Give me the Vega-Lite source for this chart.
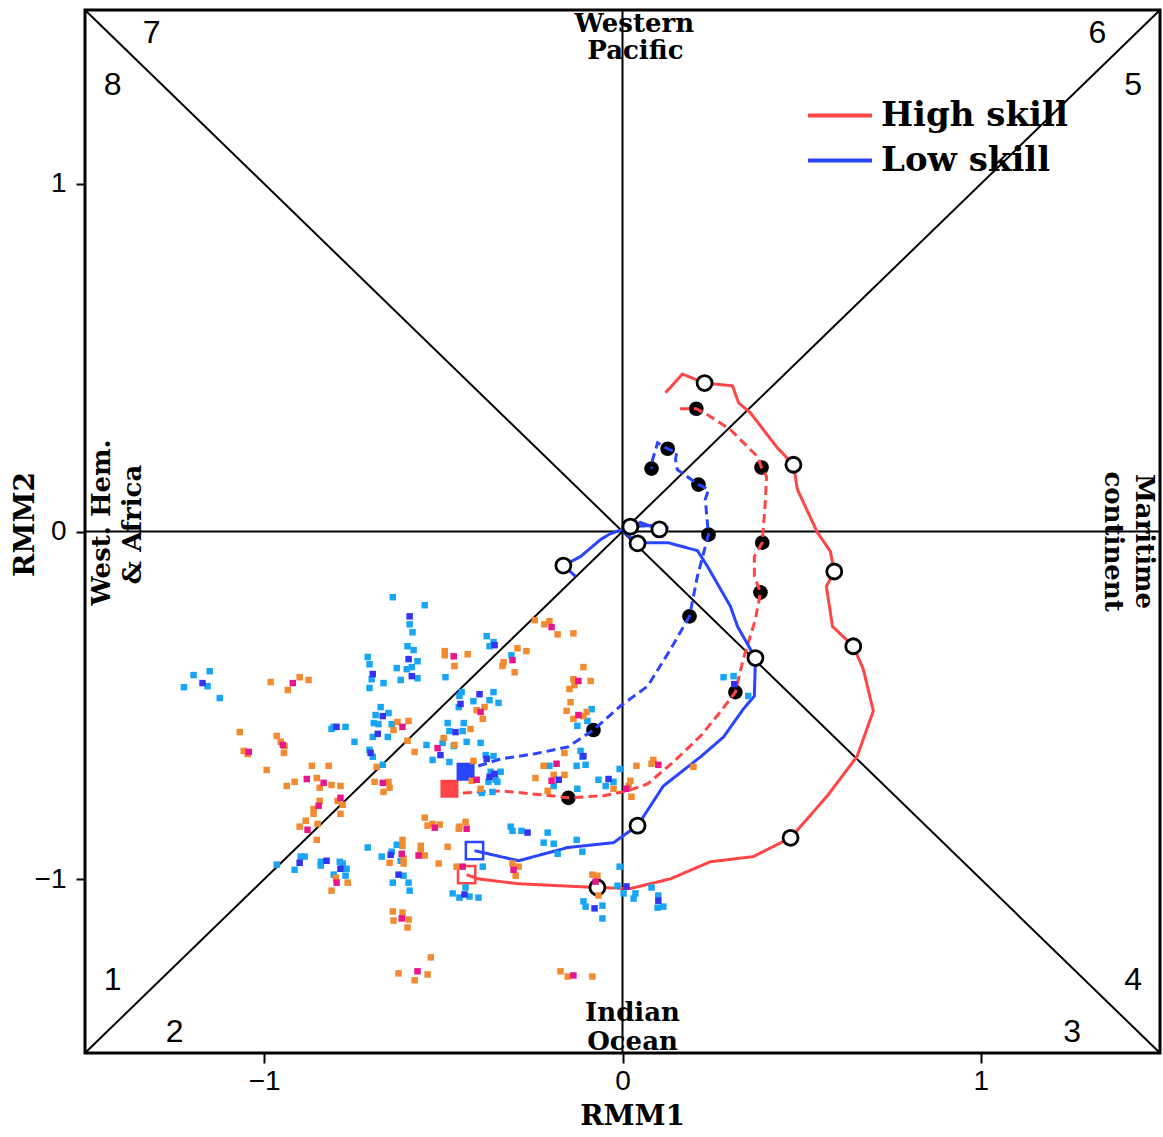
{
"$schema":"https://vega.github.io/schema/vega-lite/v6.json",
"width":1075,"height":1043,
"autosize":{"type":"none"},
"padding":{"left":85,"top":10,"right":3,"bottom":84},
"background":"white",
"config":{
"view":{"stroke":"black","strokeWidth":3},
"axis":{"grid":false,"domain":false,"tickColor":"black","tickWidth":2,"labelColor":"black","labelFont":"Liberation Sans","labelFontSize":28,"titleColor":"black","titleFont":"DejaVu Serif","titleFontWeight":"bold","titleFontSize":28}
},
"datasets":{
"guides":[{"x":-1.5,"y":-1.5,"x2":1.5,"y2":1.5},{"x":-1.5,"y":1.5,"x2":1.5,"y2":-1.5},{"x":0,"y":-1.5,"x2":0,"y2":1.5},{"x":-1.5,"y":0,"x2":1.5,"y2":0}],
"tracks":[
{"skill":"High skill","kind":"observed","i":0,"x":-0.435,"y":-0.987,"c":0},
{"skill":"High skill","kind":"observed","i":1,"x":-0.404,"y":-0.999,"c":0},
{"skill":"High skill","kind":"observed","i":2,"x":-0.293,"y":-1.013,"c":0},
{"skill":"High skill","kind":"observed","i":3,"x":-0.173,"y":-1.019,"c":0},
{"skill":"High skill","kind":"observed","i":4,"x":-0.070,"y":-1.024,"c":1},
{"skill":"High skill","kind":"observed","i":5,"x":0.022,"y":-1.027,"c":0},
{"skill":"High skill","kind":"observed","i":6,"x":0.134,"y":-0.999,"c":0},
{"skill":"High skill","kind":"observed","i":7,"x":0.245,"y":-0.950,"c":0},
{"skill":"High skill","kind":"observed","i":8,"x":0.365,"y":-0.935,"c":0},
{"skill":"High skill","kind":"observed","i":9,"x":0.469,"y":-0.881,"c":1},
{"skill":"High skill","kind":"observed","i":10,"x":0.572,"y":-0.760,"c":0},
{"skill":"High skill","kind":"observed","i":11,"x":0.655,"y":-0.646,"c":0},
{"skill":"High skill","kind":"observed","i":12,"x":0.700,"y":-0.516,"c":0},
{"skill":"High skill","kind":"observed","i":13,"x":0.672,"y":-0.396,"c":0},
{"skill":"High skill","kind":"observed","i":14,"x":0.644,"y":-0.330,"c":1},
{"skill":"High skill","kind":"observed","i":15,"x":0.586,"y":-0.273,"c":0},
{"skill":"High skill","kind":"observed","i":16,"x":0.569,"y":-0.158,"c":0},
{"skill":"High skill","kind":"observed","i":17,"x":0.591,"y":-0.115,"c":1},
{"skill":"High skill","kind":"observed","i":18,"x":0.580,"y":-0.057,"c":0},
{"skill":"High skill","kind":"observed","i":19,"x":0.544,"y":-0.003,"c":0},
{"skill":"High skill","kind":"observed","i":20,"x":0.488,"y":0.121,"c":0},
{"skill":"High skill","kind":"observed","i":21,"x":0.477,"y":0.192,"c":1},
{"skill":"High skill","kind":"observed","i":22,"x":0.432,"y":0.241,"c":0},
{"skill":"High skill","kind":"observed","i":23,"x":0.357,"y":0.341,"c":0},
{"skill":"High skill","kind":"observed","i":24,"x":0.324,"y":0.370,"c":0},
{"skill":"High skill","kind":"observed","i":25,"x":0.307,"y":0.419,"c":0},
{"skill":"High skill","kind":"observed","i":26,"x":0.229,"y":0.427,"c":1},
{"skill":"High skill","kind":"observed","i":27,"x":0.167,"y":0.453,"c":0},
{"skill":"High skill","kind":"observed","i":28,"x":0.120,"y":0.399,"c":0},
{"skill":"High skill","kind":"forecast","i":0,"x":-0.483,"y":-0.740,"c":0},
{"skill":"High skill","kind":"forecast","i":1,"x":-0.443,"y":-0.752,"c":0},
{"skill":"High skill","kind":"forecast","i":2,"x":-0.340,"y":-0.746,"c":0},
{"skill":"High skill","kind":"forecast","i":3,"x":-0.220,"y":-0.758,"c":0},
{"skill":"High skill","kind":"forecast","i":4,"x":-0.151,"y":-0.766,"c":1},
{"skill":"High skill","kind":"forecast","i":5,"x":-0.053,"y":-0.760,"c":0},
{"skill":"High skill","kind":"forecast","i":6,"x":0.014,"y":-0.746,"c":0},
{"skill":"High skill","kind":"forecast","i":7,"x":0.070,"y":-0.726,"c":0},
{"skill":"High skill","kind":"forecast","i":8,"x":0.142,"y":-0.663,"c":0},
{"skill":"High skill","kind":"forecast","i":9,"x":0.218,"y":-0.588,"c":0},
{"skill":"High skill","kind":"forecast","i":10,"x":0.273,"y":-0.519,"c":0},
{"skill":"High skill","kind":"forecast","i":11,"x":0.315,"y":-0.462,"c":1},
{"skill":"High skill","kind":"forecast","i":12,"x":0.337,"y":-0.367,"c":0},
{"skill":"High skill","kind":"forecast","i":13,"x":0.371,"y":-0.253,"c":0},
{"skill":"High skill","kind":"forecast","i":14,"x":0.385,"y":-0.175,"c":1},
{"skill":"High skill","kind":"forecast","i":15,"x":0.368,"y":-0.129,"c":0},
{"skill":"High skill","kind":"forecast","i":16,"x":0.368,"y":-0.072,"c":0},
{"skill":"High skill","kind":"forecast","i":17,"x":0.390,"y":-0.032,"c":1},
{"skill":"High skill","kind":"forecast","i":18,"x":0.399,"y":0.092,"c":0},
{"skill":"High skill","kind":"forecast","i":19,"x":0.402,"y":0.158,"c":0},
{"skill":"High skill","kind":"forecast","i":20,"x":0.388,"y":0.184,"c":1},
{"skill":"High skill","kind":"forecast","i":21,"x":0.377,"y":0.215,"c":0},
{"skill":"High skill","kind":"forecast","i":22,"x":0.301,"y":0.293,"c":0},
{"skill":"High skill","kind":"forecast","i":23,"x":0.237,"y":0.336,"c":0},
{"skill":"High skill","kind":"forecast","i":24,"x":0.206,"y":0.353,"c":1},
{"skill":"High skill","kind":"forecast","i":25,"x":0.151,"y":0.353,"c":0},
{"skill":"Low skill","kind":"observed","i":0,"x":-0.413,"y":-0.918,"c":0},
{"skill":"Low skill","kind":"observed","i":1,"x":-0.290,"y":-0.947,"c":0},
{"skill":"Low skill","kind":"observed","i":2,"x":-0.153,"y":-0.909,"c":0},
{"skill":"Low skill","kind":"observed","i":3,"x":-0.025,"y":-0.895,"c":0},
{"skill":"Low skill","kind":"observed","i":4,"x":0.042,"y":-0.846,"c":1},
{"skill":"Low skill","kind":"observed","i":5,"x":0.114,"y":-0.732,"c":0},
{"skill":"Low skill","kind":"observed","i":6,"x":0.218,"y":-0.648,"c":0},
{"skill":"Low skill","kind":"observed","i":7,"x":0.282,"y":-0.591,"c":0},
{"skill":"Low skill","kind":"observed","i":8,"x":0.337,"y":-0.511,"c":0},
{"skill":"Low skill","kind":"observed","i":9,"x":0.368,"y":-0.473,"c":0},
{"skill":"Low skill","kind":"observed","i":10,"x":0.371,"y":-0.364,"c":1},
{"skill":"Low skill","kind":"observed","i":11,"x":0.321,"y":-0.273,"c":0},
{"skill":"Low skill","kind":"observed","i":12,"x":0.301,"y":-0.215,"c":0},
{"skill":"Low skill","kind":"observed","i":13,"x":0.237,"y":-0.100,"c":0},
{"skill":"Low skill","kind":"observed","i":14,"x":0.209,"y":-0.055,"c":0},
{"skill":"Low skill","kind":"observed","i":15,"x":0.126,"y":-0.032,"c":0},
{"skill":"Low skill","kind":"observed","i":16,"x":0.070,"y":-0.032,"c":0},
{"skill":"Low skill","kind":"observed","i":17,"x":0.042,"y":-0.034,"c":1},
{"skill":"Low skill","kind":"observed","i":18,"x":0.006,"y":-0.003,"c":0},
{"skill":"Low skill","kind":"observed","i":19,"x":0.050,"y":0.026,"c":0},
{"skill":"Low skill","kind":"observed","i":20,"x":0.103,"y":0.006,"c":1},
{"skill":"Low skill","kind":"observed","i":21,"x":0.128,"y":0.011,"c":0},
{"skill":"Low skill","kind":"observed","i":22,"x":0.078,"y":0.017,"c":0},
{"skill":"Low skill","kind":"observed","i":23,"x":0.022,"y":0.014,"c":1},
{"skill":"Low skill","kind":"observed","i":24,"x":-0.033,"y":-0.006,"c":0},
{"skill":"Low skill","kind":"observed","i":25,"x":-0.061,"y":-0.023,"c":0},
{"skill":"Low skill","kind":"observed","i":26,"x":-0.117,"y":-0.072,"c":0},
{"skill":"Low skill","kind":"observed","i":27,"x":-0.165,"y":-0.098,"c":1},
{"skill":"Low skill","kind":"observed","i":28,"x":-0.131,"y":-0.129,"c":0},
{"skill":"Low skill","kind":"forecast","i":0,"x":-0.438,"y":-0.691,"c":0},
{"skill":"Low skill","kind":"forecast","i":1,"x":-0.410,"y":-0.677,"c":0},
{"skill":"Low skill","kind":"forecast","i":2,"x":-0.340,"y":-0.654,"c":0},
{"skill":"Low skill","kind":"forecast","i":3,"x":-0.248,"y":-0.640,"c":0},
{"skill":"Low skill","kind":"forecast","i":4,"x":-0.153,"y":-0.620,"c":0},
{"skill":"Low skill","kind":"forecast","i":5,"x":-0.081,"y":-0.571,"c":1},
{"skill":"Low skill","kind":"forecast","i":6,"x":-0.006,"y":-0.502,"c":0},
{"skill":"Low skill","kind":"forecast","i":7,"x":0.070,"y":-0.445,"c":0},
{"skill":"Low skill","kind":"forecast","i":8,"x":0.134,"y":-0.339,"c":0},
{"skill":"Low skill","kind":"forecast","i":9,"x":0.187,"y":-0.244,"c":1},
{"skill":"Low skill","kind":"forecast","i":10,"x":0.209,"y":-0.129,"c":0},
{"skill":"Low skill","kind":"forecast","i":11,"x":0.240,"y":-0.009,"c":1},
{"skill":"Low skill","kind":"forecast","i":12,"x":0.231,"y":0.092,"c":0},
{"skill":"Low skill","kind":"forecast","i":13,"x":0.240,"y":0.121,"c":0},
{"skill":"Low skill","kind":"forecast","i":14,"x":0.212,"y":0.135,"c":1},
{"skill":"Low skill","kind":"forecast","i":15,"x":0.153,"y":0.178,"c":0},
{"skill":"Low skill","kind":"forecast","i":16,"x":0.148,"y":0.207,"c":0},
{"skill":"Low skill","kind":"forecast","i":17,"x":0.151,"y":0.227,"c":0},
{"skill":"Low skill","kind":"forecast","i":18,"x":0.126,"y":0.238,"c":1},
{"skill":"Low skill","kind":"forecast","i":19,"x":0.098,"y":0.255,"c":0},
{"skill":"Low skill","kind":"forecast","i":20,"x":0.084,"y":0.207,"c":0},
{"skill":"Low skill","kind":"forecast","i":21,"x":0.081,"y":0.181,"c":1}
],
"members":[
{"g":"C","x":-0.641,"y":-0.189},{"g":"C","x":-0.552,"y":-0.212},{"g":"C","x":-0.594,"y":-0.267},{"g":"C","x":-0.586,"y":-0.290},{"g":"C","x":-0.600,"y":-0.330},{"g":"C","x":-0.583,"y":-0.341},{"g":"C","x":-0.711,"y":-0.361},{"g":"C","x":-0.706,"y":-0.382},{"g":"C","x":-0.572,"y":-0.373},{"g":"C","x":-0.630,"y":-0.393},{"g":"C","x":-0.602,"y":-0.396},{"g":"C","x":-0.588,"y":-0.390},{"g":"C","x":-0.572,"y":-0.422},{"g":"C","x":-0.700,"y":-0.425},{"g":"C","x":-0.667,"y":-0.436},{"g":"C","x":-0.619,"y":-0.427},{"g":"C","x":-0.706,"y":-0.450},{"g":"C","x":-0.494,"y":-0.419},{"g":"C","x":-1.197,"y":-0.413},{"g":"C","x":-1.152,"y":-0.402},{"g":"C","x":-1.158,"y":-0.445},{"g":"C","x":-1.224,"y":-0.448},{"g":"C","x":-1.124,"y":-0.479},{"g":"C","x":-0.675,"y":-0.505},{"g":"C","x":-0.689,"y":-0.528},{"g":"C","x":-0.653,"y":-0.522},{"g":"C","x":-0.694,"y":-0.551},{"g":"C","x":-0.681,"y":-0.554},{"g":"C","x":-0.644,"y":-0.554},{"g":"C","x":-0.806,"y":-0.562},{"g":"C","x":-0.773,"y":-0.562},{"g":"C","x":-0.812,"y":-0.568},{"g":"C","x":-0.697,"y":-0.591},{"g":"C","x":-0.655,"y":-0.591},{"g":"C","x":-0.748,"y":-0.605},{"g":"C","x":-0.706,"y":-0.628},{"g":"C","x":-0.697,"y":-0.648},{"g":"C","x":-0.669,"y":-0.671},{"g":"C","x":-0.488,"y":-0.551},{"g":"C","x":-0.443,"y":-0.551},{"g":"C","x":-0.483,"y":-0.574},{"g":"C","x":-0.446,"y":-0.574},{"g":"C","x":-0.435,"y":-0.605},{"g":"C","x":-0.547,"y":-0.614},{"g":"C","x":-0.502,"y":-0.608},{"g":"C","x":-0.530,"y":-0.657},{"g":"C","x":-0.483,"y":-0.663},{"g":"C","x":-0.711,"y":-0.909},{"g":"C","x":-0.672,"y":-0.935},{"g":"C","x":-0.644,"y":-0.921},{"g":"C","x":-0.630,"y":-0.901},{"g":"C","x":-0.619,"y":-0.947},{"g":"C","x":-0.965,"y":-0.958},{"g":"C","x":-0.898,"y":-0.935},{"g":"C","x":-0.887,"y":-0.935},{"g":"C","x":-0.915,"y":-0.973},{"g":"C","x":-0.842,"y":-0.950},{"g":"C","x":-0.842,"y":-0.961},{"g":"C","x":-0.789,"y":-0.950},{"g":"C","x":-0.781,"y":-0.955},{"g":"C","x":-0.770,"y":-0.970},{"g":"C","x":-0.806,"y":-0.987},{"g":"C","x":-0.773,"y":-0.990},{"g":"C","x":-0.641,"y":-1.010},{"g":"C","x":-0.597,"y":-1.010},{"g":"C","x":-0.611,"y":-0.990},{"g":"C","x":-0.594,"y":-1.033},{"g":"C","x":-0.379,"y":-0.301},{"g":"C","x":-0.371,"y":-0.330},{"g":"C","x":-0.360,"y":-0.318},{"g":"C","x":-0.310,"y":-0.356},{"g":"C","x":-0.449,"y":-0.462},{"g":"C","x":-0.360,"y":-0.462},{"g":"C","x":-0.416,"y":-0.488},{"g":"C","x":-0.371,"y":-0.485},{"g":"C","x":-0.346,"y":-0.493},{"g":"C","x":-0.457,"y":-0.505},{"g":"C","x":-0.455,"y":-0.473},{"g":"C","x":-0.086,"y":-0.511},{"g":"C","x":-0.126,"y":-0.559},{"g":"C","x":-0.098,"y":-0.545},{"g":"C","x":-0.471,"y":-0.617},{"g":"C","x":-0.396,"y":-0.608},{"g":"C","x":-0.382,"y":-0.643},{"g":"C","x":-0.360,"y":-0.646},{"g":"C","x":-0.368,"y":-0.691},{"g":"C","x":-0.340,"y":-0.691},{"g":"C","x":-0.354,"y":-0.714},{"g":"C","x":-0.374,"y":-0.720},{"g":"C","x":-0.349,"y":-0.720},{"g":"C","x":-0.393,"y":-0.752},{"g":"C","x":-0.363,"y":-0.749},{"g":"C","x":-0.204,"y":-0.674},{"g":"C","x":-0.192,"y":-0.732},{"g":"C","x":-0.126,"y":-0.740},{"g":"C","x":-0.128,"y":-0.674},{"g":"C","x":-0.103,"y":-0.671},{"g":"C","x":-0.117,"y":-0.631},{"g":"C","x":-0.112,"y":-0.648},{"g":"C","x":-0.067,"y":-0.714},{"g":"C","x":-0.047,"y":-0.732},{"g":"C","x":-0.025,"y":-0.720},{"g":"C","x":-0.008,"y":-0.683},{"g":"C","x":-0.312,"y":-0.849},{"g":"C","x":-0.307,"y":-0.861},{"g":"C","x":-0.282,"y":-0.861},{"g":"C","x":-0.209,"y":-0.866},{"g":"C","x":-0.220,"y":-0.895},{"g":"C","x":-0.192,"y":-0.898},{"g":"C","x":-0.128,"y":-0.887},{"g":"C","x":-0.112,"y":-0.921},{"g":"C","x":-0.181,"y":-0.927},{"g":"C","x":-0.390,"y":-0.964},{"g":"C","x":-0.438,"y":-1.024},{"g":"C","x":-0.474,"y":-1.041},{"g":"C","x":-0.455,"y":-1.053},{"g":"C","x":-0.427,"y":-1.050},{"g":"C","x":-0.402,"y":-1.053},{"g":"C","x":-0.014,"y":-1.019},{"g":"C","x":0.003,"y":-1.041},{"g":"C","x":0.036,"y":-1.041},{"g":"C","x":0.031,"y":-1.056},{"g":"C","x":0.081,"y":-1.024},{"g":"C","x":0.100,"y":-1.047},{"g":"C","x":0.098,"y":-1.082},{"g":"C","x":0.114,"y":-1.079},{"g":"C","x":-0.008,"y":-0.964},{"g":"C","x":-0.109,"y":-1.064},{"g":"C","x":-0.103,"y":-1.079},{"g":"C","x":-0.056,"y":-1.076},{"g":"C","x":-0.056,"y":-1.113},{"g":"C","x":0.282,"y":-0.419},{"g":"C","x":0.310,"y":-0.416},{"g":"C","x":0.351,"y":-0.473},
{"g":"O","x":-0.496,"y":-0.344},{"g":"O","x":-0.496,"y":-0.356},{"g":"O","x":-0.432,"y":-0.353},{"g":"O","x":-0.469,"y":-0.387},{"g":"O","x":-0.982,"y":-0.433},{"g":"O","x":-0.901,"y":-0.419},{"g":"O","x":-0.876,"y":-0.427},{"g":"O","x":-0.934,"y":-0.456},{"g":"O","x":-0.628,"y":-0.548},{"g":"O","x":-0.597,"y":-0.545},{"g":"O","x":-0.639,"y":-0.571},{"g":"O","x":-0.600,"y":-0.602},{"g":"O","x":-0.580,"y":-0.634},{"g":"O","x":-0.686,"y":-0.677},{"g":"O","x":-1.068,"y":-0.577},{"g":"O","x":-1.057,"y":-0.631},{"g":"O","x":-1.046,"y":-0.640},{"g":"O","x":-0.965,"y":-0.588},{"g":"O","x":-0.954,"y":-0.605},{"g":"O","x":-0.943,"y":-0.617},{"g":"O","x":-0.945,"y":-0.637},{"g":"O","x":-0.993,"y":-0.686},{"g":"O","x":-0.867,"y":-0.674},{"g":"O","x":-0.820,"y":-0.674},{"g":"O","x":-0.853,"y":-0.709},{"g":"O","x":-0.812,"y":-0.729},{"g":"O","x":-0.787,"y":-0.732},{"g":"O","x":-0.915,"y":-0.720},{"g":"O","x":-0.937,"y":-0.732},{"g":"O","x":-0.845,"y":-0.737},{"g":"O","x":-0.692,"y":-0.720},{"g":"O","x":-0.653,"y":-0.720},{"g":"O","x":-0.650,"y":-0.737},{"g":"O","x":-0.667,"y":-0.749},{"g":"O","x":-0.795,"y":-0.775},{"g":"O","x":-0.781,"y":-0.786},{"g":"O","x":-0.845,"y":-0.775},{"g":"O","x":-0.862,"y":-0.798},{"g":"O","x":-0.862,"y":-0.812},{"g":"O","x":-0.787,"y":-0.812},{"g":"O","x":-0.884,"y":-0.832},{"g":"O","x":-0.851,"y":-0.841},{"g":"O","x":-0.901,"y":-0.849},{"g":"O","x":-0.853,"y":-0.887},{"g":"O","x":-0.469,"y":-0.614},{"g":"O","x":-0.499,"y":-0.594},{"g":"O","x":-0.552,"y":-0.823},{"g":"O","x":-0.530,"y":-0.841},{"g":"O","x":-0.544,"y":-0.846},{"g":"O","x":-0.510,"y":-0.843},{"g":"O","x":-0.455,"y":-0.849},{"g":"O","x":-0.438,"y":-0.835},{"g":"O","x":-0.614,"y":-0.887},{"g":"O","x":-0.614,"y":-0.904},{"g":"O","x":-0.611,"y":-0.955},{"g":"O","x":-0.611,"y":-0.941},{"g":"O","x":-0.650,"y":-0.953},{"g":"O","x":-0.563,"y":-0.904},{"g":"O","x":-0.563,"y":-0.921},{"g":"O","x":-0.552,"y":-0.932},{"g":"O","x":-0.513,"y":-0.955},{"g":"O","x":-0.488,"y":-0.907},{"g":"O","x":-0.800,"y":-0.996},{"g":"O","x":-0.767,"y":-1.010},{"g":"O","x":-0.812,"y":-1.033},{"g":"O","x":-0.332,"y":-0.376},{"g":"O","x":-0.335,"y":-0.387},{"g":"O","x":-0.301,"y":-0.405},{"g":"O","x":-0.109,"y":-0.390},{"g":"O","x":-0.137,"y":-0.425},{"g":"O","x":-0.089,"y":-0.430},{"g":"O","x":-0.134,"y":-0.442},{"g":"O","x":-0.148,"y":-0.453},{"g":"O","x":-0.145,"y":-0.491},{"g":"O","x":-0.156,"y":-0.516},{"g":"O","x":-0.109,"y":-0.531},{"g":"O","x":-0.100,"y":-0.519},{"g":"O","x":-0.137,"y":-0.539},{"g":"O","x":-0.407,"y":-0.514},{"g":"O","x":-0.385,"y":-0.505},{"g":"O","x":-0.390,"y":-0.539},{"g":"O","x":-0.424,"y":-0.568},{"g":"O","x":-0.416,"y":-0.660},{"g":"O","x":-0.421,"y":-0.717},{"g":"O","x":-0.396,"y":-0.740},{"g":"O","x":-0.220,"y":-0.674},{"g":"O","x":-0.162,"y":-0.700},{"g":"O","x":-0.192,"y":-0.700},{"g":"O","x":-0.243,"y":-0.709},{"g":"O","x":-0.209,"y":-0.746},{"g":"O","x":-0.162,"y":-0.637},{"g":"O","x":-0.025,"y":-0.740},{"g":"O","x":0.039,"y":-0.674},{"g":"O","x":0.086,"y":-0.657},{"g":"O","x":0.081,"y":-0.668},{"g":"O","x":0.022,"y":-0.717},{"g":"O","x":0.017,"y":-0.732},{"g":"O","x":0.025,"y":-0.763},{"g":"O","x":0.198,"y":-0.677},{"g":"O","x":-0.457,"y":-0.855},{"g":"O","x":-0.307,"y":-0.955},{"g":"O","x":-0.298,"y":-0.990},{"g":"O","x":-0.290,"y":-0.964},{"g":"O","x":-0.463,"y":-0.964},{"g":"O","x":-0.084,"y":-0.987},{"g":"O","x":-0.070,"y":-0.990},{"g":"O","x":-0.067,"y":-1.047},{"g":"O","x":-0.641,"y":-1.093},{"g":"O","x":-0.614,"y":-1.096},{"g":"O","x":-0.639,"y":-1.119},{"g":"O","x":-0.597,"y":-1.116},{"g":"O","x":-0.600,"y":-1.139},{"g":"O","x":-0.535,"y":-1.225},{"g":"O","x":-0.625,"y":-1.271},{"g":"O","x":-0.544,"y":-1.274},{"g":"O","x":-0.580,"y":-1.291},{"g":"O","x":-0.173,"y":-1.265},{"g":"O","x":-0.153,"y":-1.280},{"g":"O","x":-0.084,"y":-1.280},{"g":"O","x":-0.245,"y":-0.255},{"g":"O","x":-0.218,"y":-0.267},{"g":"O","x":-0.204,"y":-0.258},{"g":"O","x":-0.181,"y":-0.296},{"g":"O","x":-0.137,"y":-0.293},{"g":"O","x":-0.293,"y":-0.336},{"g":"O","x":-0.268,"y":-0.344},
{"g":"D","x":-0.594,"y":-0.244},{"g":"D","x":-0.597,"y":-0.367},{"g":"D","x":-0.588,"y":-0.416},{"g":"D","x":-0.697,"y":-0.410},{"g":"D","x":-1.172,"y":-0.436},{"g":"D","x":-0.669,"y":-0.531},{"g":"D","x":-0.798,"y":-0.562},{"g":"D","x":-0.683,"y":-0.582},{"g":"D","x":-0.703,"y":-0.637},{"g":"D","x":-0.466,"y":-0.577},{"g":"D","x":-0.508,"y":-0.643},{"g":"D","x":-0.647,"y":-0.930},{"g":"D","x":-0.901,"y":-0.953},{"g":"D","x":-0.826,"y":-0.947},{"g":"D","x":-0.787,"y":-0.970},{"g":"D","x":-0.625,"y":-0.987},{"g":"D","x":-0.357,"y":-0.327},{"g":"D","x":-0.399,"y":-0.468},{"g":"D","x":-0.452,"y":-0.496},{"g":"D","x":-0.379,"y":-0.654},{"g":"D","x":-0.357,"y":-0.697},{"g":"D","x":-0.371,"y":-0.706},{"g":"D","x":-0.178,"y":-0.714},{"g":"D","x":-0.109,"y":-0.646},{"g":"D","x":-0.039,"y":-0.712},{"g":"D","x":-0.265,"y":-0.866},{"g":"D","x":-0.441,"y":-1.044},{"g":"D","x":0.011,"y":-1.021},{"g":"D","x":0.100,"y":-1.062},{"g":"D","x":-0.078,"y":-1.084},{"g":"D","x":0.312,"y":-0.439},
{"g":"M","x":-0.471,"y":-0.359},{"g":"M","x":-0.920,"y":-0.436},{"g":"M","x":-0.614,"y":-0.562},{"g":"M","x":-1.043,"y":-0.634},{"g":"M","x":-0.948,"y":-0.614},{"g":"M","x":-0.881,"y":-0.712},{"g":"M","x":-0.834,"y":-0.723},{"g":"M","x":-0.669,"y":-0.723},{"g":"M","x":-0.787,"y":-0.766},{"g":"M","x":-0.848,"y":-0.789},{"g":"M","x":-0.879,"y":-0.858},{"g":"M","x":-0.516,"y":-0.623},{"g":"M","x":-0.524,"y":-0.852},{"g":"M","x":-0.435,"y":-0.855},{"g":"M","x":-0.616,"y":-0.927},{"g":"M","x":-0.569,"y":-0.932},{"g":"M","x":-0.798,"y":-1.010},{"g":"M","x":-0.307,"y":-0.370},{"g":"M","x":-0.123,"y":-0.430},{"g":"M","x":-0.123,"y":-0.528},{"g":"M","x":-0.396,"y":-0.519},{"g":"M","x":-0.407,"y":-0.714},{"g":"M","x":-0.184,"y":-0.668},{"g":"M","x":-0.198,"y":-0.717},{"g":"M","x":0.100,"y":-0.671},{"g":"M","x":0.011,"y":-0.740},{"g":"M","x":-0.304,"y":-0.973},{"g":"M","x":-0.446,"y":-0.964},{"g":"M","x":-0.075,"y":-1.007},{"g":"M","x":-0.616,"y":-1.113},{"g":"M","x":-0.572,"y":-1.265},{"g":"M","x":-0.137,"y":-1.277},{"g":"M","x":-0.198,"y":-0.275}
],
"regions":[
{"t":"Western","x":0.033,"y":1.437,"side":"top"},
{"t":"Pacific","x":0.036,"y":1.359,"side":"top"},
{"t":"Indian","x":0.028,"y":-1.409,"side":"top"},
{"t":"Ocean","x":0.028,"y":-1.492,"side":"top"},
{"t":"West. Hem.","x":-1.452,"y":0.026,"side":"left"},
{"t":"& Africa","x":-1.366,"y":0.02,"side":"left"},
{"t":"Maritime","x":1.456,"y":-0.029,"side":"right"},
{"t":"continent","x":1.37,"y":-0.029,"side":"right"}
],
"phases":[
{"n":"1","x":-1.423,"y":-1.291},{"n":"2","x":-1.25,"y":-1.44},{"n":"3","x":1.255,"y":-1.44},{"n":"4","x":1.425,"y":-1.291},
{"n":"5","x":1.425,"y":1.283},{"n":"6","x":1.325,"y":1.435},{"n":"7","x":-1.314,"y":1.435},{"n":"8","x":-1.423,"y":1.283}
]
},
"encoding":{
"x":{"field":"x","type":"quantitative","scale":{"domain":[-1.5,1.5],"nice":false,"zero":false},
 "axis":{"values":[-1,0,1],"format":"d","tickSize":10,"labelPadding":4,"title":"RMM1","titleX":547,"titleY":63,"titleBaseline":"middle","titleAlign":"center"}},
"y":{"field":"y","type":"quantitative","scale":{"domain":[-1.5,1.5],"nice":false,"zero":false},
 "axis":{"values":[-1,0,1],"format":"d","tickSize":9,"labelPadding":10,"title":"RMM2","titleX":-60,"titleY":514,"titleBaseline":"middle","titleAlign":"center","titleAngle":270}}
},
"layer":[
{"data":{"name":"guides"},"mark":{"type":"rule","color":"black","strokeWidth":2},
 "encoding":{"x2":{"field":"x2"},"y2":{"field":"y2"}}},
{"data":{"name":"tracks"},"transform":[{"filter":"datum.c == 1 && datum.kind == 'forecast'"}],
 "mark":{"type":"point","shape":"circle","filled":true,"size":215,"color":"black","opacity":1}},
{"data":{"name":"tracks"},"mark":{"type":"line","strokeWidth":3,"strokeCap":"butt"},
 "encoding":{
  "color":{"field":"skill","type":"nominal","scale":{"domain":["High skill","Low skill"],"range":["#ff4545","#2a45ff"]},
   "legend":{"title":null,"orient":"none","legendX":721,"legendY":88,"symbolType":"stroke","symbolSize":4096,"symbolStrokeWidth":4,"clipHeight":35,"rowPadding":10,"padding":0,"labelFont":"DejaVu Serif","labelFontWeight":"bold","labelFontSize":34,"labelColor":"black","labelOffset":7,"labelLimit":0}},
  "strokeDash":{"field":"kind","type":"nominal","scale":{"domain":["observed","forecast"],"range":[[1,0],[9,5]]},"legend":null},
  "order":{"field":"i","type":"quantitative"}}},
{"data":{"name":"tracks"},"transform":[{"filter":"datum.c == 1 && datum.kind == 'observed'"}],
 "mark":{"type":"point","shape":"circle","filled":true,"size":225,"fill":"white","stroke":"black","strokeWidth":2.8,"opacity":1}},
{"data":{"name":"tracks"},"transform":[{"filter":"datum.i == 0 && datum.kind == 'forecast'"}],
 "mark":{"type":"point","shape":"square","filled":true,"size":324,"opacity":1},
 "encoding":{"color":{"field":"skill","type":"nominal","legend":null}}},
{"data":{"name":"tracks"},"transform":[{"filter":"datum.i == 0 && datum.kind == 'observed'"}],
 "mark":{"type":"point","shape":"square","filled":false,"size":300,"strokeWidth":2.5,"opacity":1},
 "encoding":{"color":{"field":"skill","type":"nominal","legend":null}}},
{"data":{"name":"members"},"mark":{"type":"square","size":42,"opacity":1},
 "encoding":{"fill":{"field":"g","type":"nominal","scale":{"domain":["O","M","C","D"],"range":["#f28a30","#e8168c","#18a6f4","#3434f0"]},"legend":null}}},
{"data":{"name":"regions"},"transform":[{"filter":"datum.side == 'top'"}],
 "mark":{"type":"text","font":"DejaVu Serif","fontWeight":"bold","fontSize":26,"align":"center","baseline":"alphabetic","color":"black"},
 "encoding":{"text":{"field":"t"}}},
{"data":{"name":"regions"},"transform":[{"filter":"datum.side == 'left'"}],
 "mark":{"type":"text","font":"DejaVu Serif","fontWeight":"bold","fontSize":26,"align":"center","baseline":"middle","angle":270,"color":"black"},
 "encoding":{"text":{"field":"t"}}},
{"data":{"name":"regions"},"transform":[{"filter":"datum.side == 'right'"}],
 "mark":{"type":"text","font":"DejaVu Serif","fontWeight":"bold","fontSize":26,"align":"center","baseline":"middle","angle":90,"color":"black"},
 "encoding":{"text":{"field":"t"}}},
{"data":{"name":"phases"},
 "mark":{"type":"text","font":"Liberation Sans","fontSize":32,"align":"center","baseline":"middle","color":"black"},
 "encoding":{"text":{"field":"n"}}}
]
}
